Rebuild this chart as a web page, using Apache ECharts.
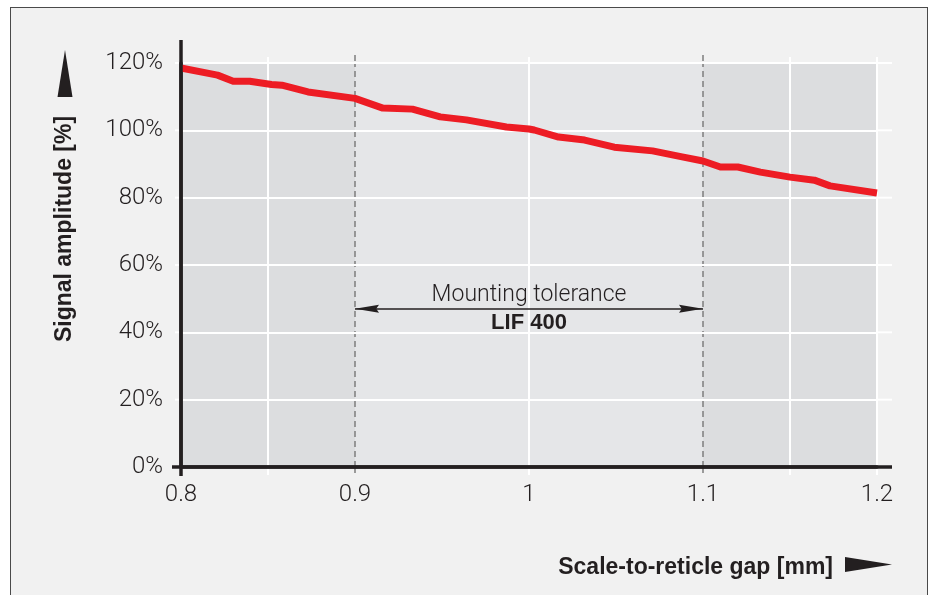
<!DOCTYPE html>
<html>
<head>
<meta charset="utf-8">
<script src="https://cdn.jsdelivr.net/npm/echarts@6/dist/echarts.min.js"></script>
<style>
html,body{margin:0;padding:0;background:#ffffff;width:934px;height:595px;overflow:hidden;}
#frame{position:absolute;left:10px;top:7px;width:916px;height:620px;border:1.5px solid #4a4a4a;background:#f1f1f1;}
#main{position:absolute;left:0;top:0;width:934px;height:595px;}
</style>
</head>
<body>
<div id="frame"></div>
<div id="main"></div>
<script>
// ---- data ----
const gapMm = [0.8, 0.821, 0.83, 0.8395, 0.852, 0.858, 0.873, 0.9, 0.916, 0.933, 0.949, 0.964, 0.987, 1.0, 1.003, 1.017, 1.032, 1.049, 1.071, 1.088, 1.1, 1.11, 1.12, 1.133, 1.15, 1.164, 1.173, 1.2];
const amplitude = [118.5, 116.4, 114.6, 114.6, 113.6, 113.4, 111.4, 109.5, 106.6, 106.3, 104.0, 103.1, 101.0, 100.4, 100.1, 98.0, 97.1, 95.0, 93.9, 92.1, 90.9, 89.1, 89.1, 87.6, 86.1, 85.2, 83.5, 81.4];
const whiteGridX = [0.85, 1.0, 1.15, 1.2];
const toleranceX = [0.9, 1.1];
const yTicks = [0, 20, 40, 60, 80, 100, 120];
const toleranceLevel = 47;
const yTitle = 'Signal amplitude [%]';
const xTitle = 'Scale-to-reticle gap [mm]';
const noteTop = 'Mounting tolerance';
const noteBottom = 'LIF 400';

const INK = '#231f20';
const RED = '#ed1c24';
const LIGHT = 'Roboto';

const chart = echarts.init(document.getElementById('main'), null, {renderer: 'canvas'});

const option = {
  backgroundColor: 'transparent',
  animation: false,
  grid: {left: 181, right: 57, top: 63, bottom: 128, show: true, backgroundColor: '#dcdddf', borderWidth: 0},
  xAxis: {
    type: 'value', min: 0.8, max: 1.2, interval: 0.1, z: 6,
    axisLine: {show: true, onZero: false, lineStyle: {color: INK, width: 3.5}},
    axisTick: {show: false},
    splitLine: {show: false},
    axisLabel: {
      margin: 16, fontSize: 24, color: INK, fontFamily: LIGHT, fontWeight: 300,
      formatter: v => String(Math.round(v * 10) / 10)
    }
  },
  yAxis: {
    type: 'value', min: yTicks[0], max: yTicks[yTicks.length - 1], interval: 20, z: 2.5,
    axisLine: {show: true, lineStyle: {color: INK, width: 3.5}},
    axisTick: {show: false},
    splitLine: {show: true, lineStyle: {color: '#ffffff', width: 2}},
    axisLabel: {margin: 18, fontSize: 24, color: INK, fontFamily: LIGHT, fontWeight: 300, formatter: '{value}%'}
  },
  series: [
    {
      type: 'line', z: 3, symbol: 'none', silent: true,
      data: gapMm.map((x, i) => [x, amplitude[i]]),
      lineStyle: {color: RED, width: 7, join: 'round', cap: 'butt'},
      markArea: {
        z: 1, silent: true,
        itemStyle: {color: '#e5e6e8'},
        data: [[{xAxis: toleranceX[0]}, {xAxis: toleranceX[1]}]]
      },
      markLine: {
        z: 2, silent: true, symbol: 'none', label: {show: false},
        data: whiteGridX.map(v => ({xAxis: v, lineStyle: {color: '#ffffff', width: 2, type: 'solid'}}))
          .concat(toleranceX.map(v => ({xAxis: v, lineStyle: {color: '#7d7d7d', width: 1.5, type: [6, 4]}})))
      }
    },
    {
      type: 'line', z: 4, data: [], silent: true,
      markLine: {
        z: 4, silent: true,
        symbol: ['path://M5,0L10,26L5,23L0,26Z', 'path://M5,0L10,26L5,23L0,26Z'],
        symbolSize: [8, 24],
        symbolOffset: [[0, 12], [0, 12]],
        label: {show: false},
        lineStyle: {color: INK, width: 1.5, type: 'solid'},
        data: [[{coord: [toleranceX[0], toleranceLevel]}, {coord: [toleranceX[1], toleranceLevel]}]]
      },
      markPoint: {
        z: 4, silent: true, symbol: 'rect', symbolSize: 0,
        label: {
          show: true, position: 'inside',
          formatter: '{a|' + noteTop + '}\n{b|' + noteBottom + '}',
          rich: {
            a: {fontSize: 23, fontFamily: LIGHT, fontWeight: 300, color: INK, lineHeight: 29, align: 'center'},
            b: {fontSize: 22, fontFamily: 'Liberation Sans', fontWeight: 'bold', color: INK, lineHeight: 27, align: 'center'}
          }
        },
        data: [{coord: [(toleranceX[0] + toleranceX[1]) / 2, toleranceLevel]}]
      }
    }
  ]
};
chart.setOption(option);

// Decorations derived from the axes' own scales
const P = (x, y) => chart.convertToPixel({gridIndex: 0}, [x, y]);
const org = P(0.8, 0), topPt = P(0.8, 120), rgt = P(1.2, 0);
const g = [];
// horizontal grid line overshoots
yTicks.slice(1).forEach(v => {
  const p = P(0.8, v);
  g.push({type: 'line', z: 2, silent: true, shape: {x1: org[0] - 6, y1: p[1], x2: org[0], y2: p[1]}, style: {stroke: '#fff', lineWidth: 2}});
  g.push({type: 'line', z: 2, silent: true, shape: {x1: rgt[0], y1: p[1], x2: rgt[0] + 15, y2: p[1]}, style: {stroke: '#fff', lineWidth: 2}});
});
// vertical grid line overshoots
whiteGridX.forEach(v => {
  const p = P(v, 0);
  g.push({type: 'line', z: 2, silent: true, shape: {x1: p[0], y1: topPt[1] - 6, x2: p[0], y2: topPt[1]}, style: {stroke: '#fff', lineWidth: 2}});
  g.push({type: 'line', z: 2, silent: true, shape: {x1: p[0], y1: org[1], x2: p[0], y2: org[1] + 8}, style: {stroke: '#fff', lineWidth: 2}});
});
toleranceX.forEach(v => {
  const p = P(v, 0);
  g.push({type: 'line', z: 2, silent: true, shape: {x1: p[0], y1: topPt[1] - 8, x2: p[0], y2: topPt[1]}, style: {stroke: '#7d7d7d', lineWidth: 1.5, lineDash: [6, 4]}});
  g.push({type: 'line', z: 2, silent: true, shape: {x1: p[0], y1: org[1], x2: p[0], y2: org[1] + 8}, style: {stroke: '#7d7d7d', lineWidth: 1.5, lineDash: [6, 4]}});
});
// axis line overshoots
g.push({type: 'line', z: 7, silent: true, shape: {x1: org[0], y1: topPt[1] - 23, x2: org[0], y2: org[1] + 9}, style: {stroke: INK, lineWidth: 3.5}});
g.push({type: 'line', z: 7, silent: true, shape: {x1: org[0] - 9, y1: org[1], x2: rgt[0] + 15, y2: org[1]}, style: {stroke: INK, lineWidth: 3.5}});
// axis titles and arrows
g.push({type: 'text', z: 8, silent: true, x: 65, y: 229, rotation: Math.PI / 2,
  style: {text: yTitle, fill: INK, font: 'bold 23px "Liberation Sans", Arial, sans-serif', textAlign: 'center', textVerticalAlign: 'middle'}});
g.push({type: 'polygon', z: 8, silent: true, shape: {points: [[65, 50], [72.5, 97], [57.5, 97]]}, style: {fill: INK}});
g.push({type: 'text', z: 8, silent: true, x: 833, y: 568,
  style: {text: xTitle, fill: INK, font: 'bold 23px "Liberation Sans", Arial, sans-serif', textAlign: 'right', textVerticalAlign: 'middle'}});
g.push({type: 'polygon', z: 8, silent: true, shape: {points: [[845, 557], [892, 564.5], [845, 572]]}, style: {fill: INK}});

chart.setOption({graphic: {elements: g}});
</script>
</body>
</html>
